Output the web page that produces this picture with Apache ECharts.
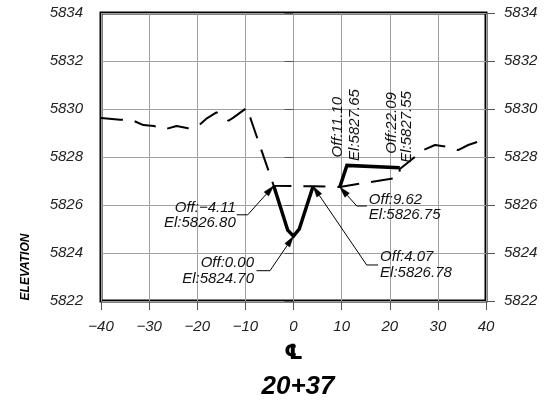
<!DOCTYPE html>
<html>
<head>
<meta charset="utf-8">
<script src="https://cdn.jsdelivr.net/npm/echarts@6/dist/echarts.min.js"></script>
<style>
  html, body { margin: 0; padding: 0; background: #fff; }
  #chart { width: 546px; height: 410px; }
</style>
</head>
<body>
<div id="chart"></div>
<script>
// Cross section 20+37: existing ground (dashed) and proposed ditch / bench (solid)
const stationLabel = '20+37';

// Existing ground profile
const groundOffset = [-40, -36, -33.6, -31.2, -29, -26.8, -24.3, -21.9, -19.8, -18, -16, -13.5, -12.5, -9.7,
  -4.11, 4.07, 9.62, 21.9, 22.09, 27, 29.4, 31.8, 34.2, 36.3, 40];
const groundElev = [5829.62, 5829.55, 5829.54, 5829.33, 5829.29, 5829.15, 5829.29, 5829.2, 5829.29, 5829.61, 5829.86, 5829.51, 5829.64, 5830.05,
  5826.80, 5826.78, 5826.75, 5827.15, 5827.50, 5828.29, 5828.5, 5828.43, 5828.29, 5828.5, 5828.75];

// Proposed ditch
const ditchOffset = [-4.11, -1.2, 0.00, 1.2, 4.07];
const ditchElev = [5826.80, 5824.95, 5824.70, 5825.00, 5826.78];

// Proposed bench
const benchOffset = [9.62, 11.10, 22.09];
const benchElev = [5826.75, 5827.65, 5827.55];

// Labelled points
const calloutOffset = [-4.11, 0.00, 9.62, 4.07, 11.10, 22.09];
const calloutElev = [5826.80, 5824.70, 5826.75, 5826.78, 5827.65, 5827.55];

// Axis ranges
const offsetRange = [-40, 40, 10];
const elevRange = [5822, 5834, 2];

// Pixel placement of each callout relative to its point
const calloutLayout = [
  { kind: 'leader', elbow: [-26, 29], end: [-37, 29], text: [-38, 22], align: 'right' },
  { kind: 'leader', elbow: [-23.5, 34.5], end: [-37, 34.5], text: [-39.5, 27], align: 'right' },
  { kind: 'leader', elbow: [17, 19], end: [27, 19], text: [29, 12.5], align: 'left' },
  { kind: 'leader', elbow: [53.6, 78.7], end: [65, 78.7], text: [67, 71], align: 'left' },
  { kind: 'vertical', line1: [-9, -8], line2: [7.5, -4.5] },
  { kind: 'vertical', line1: [-7.6, -14], line2: [7.5, -5] }
];

const FONT = 'Liberation Sans, Arial, sans-serif';
const minus = s => String(s).replace('-', '\u2212');
const pairs = (xs, ys) => xs.map((x, i) => [x, ys[i]]);

const chart = echarts.init(document.getElementById('chart'), null, { renderer: 'canvas' });

function renderCallout(params, api) {
  const idx = api.value(2);
  const x = api.value(0), y = api.value(1);
  const p = api.coord([x, y]);
  const L = calloutLayout[idx];
  const line1 = 'Off:' + minus(x.toFixed(2));
  const line2 = 'El:' + y.toFixed(2);
  const font = 'italic 15px ' + FONT;
  const children = [];
  if (L.kind === 'leader') {
    const e = [p[0] + L.elbow[0], p[1] + L.elbow[1]];
    const f = [p[0] + L.end[0], p[1] + L.end[1]];
    const dx = p[0] - e[0], dy = p[1] - e[1];
    const len = Math.sqrt(dx * dx + dy * dy);
    const ux = dx / len, uy = dy / len;
    const al = 11, aw = 3;
    const bx = p[0] - ux * al, by = p[1] - uy * al;
    children.push({
      type: 'polyline',
      shape: { points: [[bx, by], e, f] },
      style: { stroke: '#000', lineWidth: 1, fill: null }
    });
    children.push({
      type: 'polygon',
      shape: { points: [p, [bx - uy * aw, by + ux * aw], [bx + uy * aw, by - ux * aw]] },
      style: { fill: '#000', stroke: '#000', lineWidth: 0.5 }
    });
    const tx = p[0] + L.text[0], ty = p[1] + L.text[1];
    children.push({ type: 'text', x: tx, y: ty,
      style: { text: line1, font: font, fill: '#111', align: L.align, verticalAlign: 'middle' } });
    children.push({ type: 'text', x: tx, y: ty + 15.5,
      style: { text: line2, font: font, fill: '#111', align: L.align, verticalAlign: 'middle' } });
  } else {
    children.push({ type: 'text', x: p[0] + L.line1[0], y: p[1] + L.line1[1], rotation: Math.PI / 2,
      style: { text: line1, font: font, fill: '#111', align: 'left', verticalAlign: 'middle' } });
    children.push({ type: 'text', x: p[0] + L.line2[0], y: p[1] + L.line2[1], rotation: Math.PI / 2,
      style: { text: line2, font: font, fill: '#111', align: 'left', verticalAlign: 'middle' } });
  }
  return { type: 'group', children: children };
}

const tickLabel = { fontFamily: FONT, fontStyle: 'italic', fontSize: 15, color: '#222', margin: 18 };
const tickStyle = { show: true, inside: false, length: 9, lineStyle: { color: '#555', width: 1 } };
const gridLine = { show: true, lineStyle: { color: '#a0a0a0', width: 1 } };

const option = {
  animation: false,
  backgroundColor: '#fff',
  grid: { left: 101, right: 60, top: 13, bottom: 109, show: true, borderColor: '#000', borderWidth: 3, backgroundColor: 'transparent' },
  title: {
    text: stationLabel, left: 293, top: 369, textAlign: 'center',
    textStyle: { fontFamily: FONT, fontStyle: 'italic', fontWeight: 'bold', fontSize: 26, color: '#000' }
  },
  graphic: [{
    type: 'text', x: 26, y: 267, rotation: Math.PI / 2,
    style: { text: 'ELEVATION', font: 'italic bold 12px ' + FONT, fill: '#000', align: 'center', verticalAlign: 'middle' }
  }],
  xAxis: {
    type: 'value', min: offsetRange[0], max: offsetRange[1], interval: offsetRange[2],
    axisLine: { show: false }, axisTick: tickStyle, splitLine: gridLine,
    axisLabel: Object.assign({}, tickLabel, { formatter: v => minus(v) }),
    name: '\u2104', nameLocation: 'middle', nameGap: 42,
    nameTextStyle: { fontFamily: 'DejaVu Sans', fontWeight: 'bold', fontSize: 21, color: '#000' }
  },
  yAxis: [{
    type: 'value', min: elevRange[0], max: elevRange[1], interval: elevRange[2], position: 'left',
    axisLine: { show: false }, axisTick: tickStyle, splitLine: gridLine,
    axisLabel: Object.assign({}, tickLabel, { formatter: v => String(v) })
  }, {
    type: 'value', min: elevRange[0], max: elevRange[1], interval: elevRange[2], position: 'right',
    axisLine: { show: false }, axisTick: tickStyle, splitLine: { show: false },
    axisLabel: Object.assign({}, tickLabel, { formatter: v => String(v) })
  }],
  series: [{
    name: 'Existing ground', type: 'line', data: pairs(groundOffset, groundElev),
    symbol: 'none', z: 3,
    lineStyle: { color: '#000', width: 2, type: [22, 12] }
  }, {
    name: 'Ditch', type: 'line', data: pairs(ditchOffset, ditchElev),
    symbol: 'none', z: 4,
    lineStyle: { color: '#000', width: 3.5, join: 'miter' }
  }, {
    name: 'Bench', type: 'line', data: pairs(benchOffset, benchElev),
    symbol: 'none', z: 4,
    lineStyle: { color: '#000', width: 3.5, join: 'miter' }
  }, {
    name: 'Callouts', type: 'custom', z: 5, clip: false,
    data: calloutOffset.map((x, i) => [x, calloutElev[i], i]),
    renderItem: renderCallout
  }]
};

chart.setOption(option);
</script>
</body>
</html>
